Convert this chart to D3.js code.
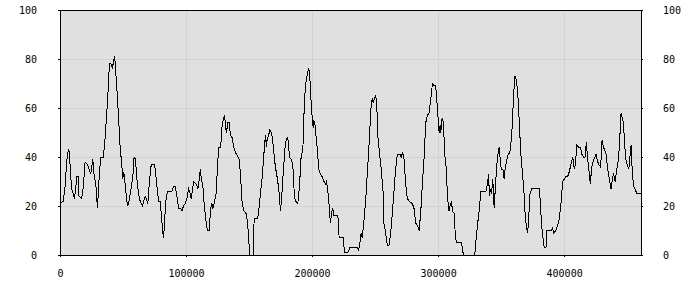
<!DOCTYPE html>
<html>
<head>
<meta charset="utf-8">
<script src="https://cdn.jsdelivr.net/npm/d3@7"></script>
<style>
    body { margin: 0; background: #ffffff; }
    .axis text { font-family: "DejaVu Sans Mono", monospace; font-size: 10px; fill: #000; }
    .axis .domain { display: none; }
</style>
</head>
<body>
<div id="wrapper"></div>
<script>
// sample positions (x) and readings (y)
const positions = [
    0, 2600, 4000, 5300, 6600, 7400, 8500, 9300, 10600, 11400, 12500, 13200, 14600, 15100, 17200, 18500,
    19900, 21700, 23000, 24400, 25200, 26000, 27000, 28400, 29700, 31000, 32300, 34400, 35800, 37100,
    38400, 39200, 40500, 41600, 42400, 43200, 43700, 45000, 46400, 47700, 49000, 49800, 50600, 51700,
    53000, 53800, 54800, 56400, 57800, 58800, 59900, 61000, 62300, 63600, 65400, 66500, 67600, 68600,
    69700, 70800, 72400, 75000, 76000, 77100, 78200, 79500, 80800, 81600, 82200, 83000, 84000, 85300,
    88800, 90100, 91400, 92800, 94100, 95900, 96700, 98000, 99400, 100700, 102000, 102800, 104100,
    105200, 106000, 108100, 109400, 110500, 111300, 112100, 113400, 114500, 115800, 116900, 118400,
    119500, 120600, 121400, 122700, 123800, 125100, 125900, 127500, 128500, 129800, 130600, 131400,
    132200, 133000, 134300, 135200, 136500, 137800, 139100, 141200, 142300, 143400, 144400, 145800,
    147600, 148700, 149700, 150500, 153600, 154000, 156900, 157700, 159000, 160300, 161600, 163000,
    163800, 164300, 165600, 166400, 167500, 168500, 169600, 170900, 172200, 173600, 174900, 175700,
    176800, 177600, 178900, 180200, 181000, 182100, 183400, 184700, 186000, 186800, 188700, 190000,
    191300, 192700, 193400, 194200, 195300, 196600, 197400, 198200, 198800, 200100, 200900, 201400,
    202200, 202700, 204000, 205400, 206700, 208000, 209400, 210700, 211500, 212500, 213300, 214100,
    214600, 215400, 216500, 217300, 220500, 221500, 224700, 225800, 228400, 230000, 231300, 235800,
    236900, 238000, 239000, 239800, 241200, 242500, 243800, 245100, 245900, 247000, 247800, 248600,
    249400, 250400, 251200, 252300, 253600, 254900, 256300, 257000, 258400, 259700, 261000, 262400,
    263700, 265000, 266300, 267600, 269800, 270800, 271900, 273000, 274300, 275600, 276900, 279600,
    280900, 282200, 283600, 284900, 286200, 287500, 288800, 290200, 291500, 292800, 294100, 295500,
    296800, 298100, 298900, 300000, 300800, 301600, 302100, 303200, 304200, 305300, 306600, 307400,
    308700, 309500, 310600, 311400, 312700, 313800, 314800, 318500, 320100, 329100, 329900, 331200,
    332600, 333900, 337900, 339200, 340000, 340800, 341300, 342400, 343400, 344500, 345600, 346600,
    347700, 348500, 349300, 350100, 351400, 352400, 353200, 354600, 355600, 357000, 358300, 359100,
    359900, 360900, 362300, 363600, 364600, 365700, 367000, 368400, 369100, 370200, 371000, 371800,
    372900, 374200, 380300, 381100, 382100, 383500, 384200, 385600, 386400, 389600, 390900, 391700,
    393500, 394800, 396200, 397500, 398800, 400200, 401500, 402800, 404100, 405400, 406800, 408100,
    408900, 410200, 411300, 412900, 414200, 415500, 416600, 417600, 418700, 420000, 420800, 421900,
    423500, 425300, 426100, 427400, 428800, 429300, 430100, 431200, 432000, 433300, 434600, 435900,
    437200, 438600, 439400, 440400, 441800, 443100, 444100, 445200, 446000, 447100, 447800, 448900,
    450000, 451300, 452400, 453200, 453900, 455000, 456300, 457700, 461000
];

const values = [
    21, 22, 28, 38, 43, 42, 32, 27, 25, 23, 27, 32, 32, 24, 23, 28,
    38, 37, 35, 33, 36, 39, 33, 29, 19, 31, 40, 40, 48, 58,
    69, 78, 78, 76, 79, 81, 79, 69, 57, 44, 37, 31, 34, 29,
    22, 20, 22, 27, 32, 40, 39, 31, 25, 22, 20, 22, 24, 23,
    21, 29, 37, 37, 33, 27, 22, 22, 14, 9, 7, 14, 22, 26,
    26, 28, 28, 24, 19, 19, 18, 20, 21, 23, 27, 26, 23,
    27, 30, 29, 27, 31, 35, 31, 28, 20, 14, 10, 10,
    19, 21, 19, 22, 25, 37, 44, 44, 52, 56, 57, 52,
    50, 54, 54, 49, 48, 44, 42, 40, 39, 31, 22, 18,
    17, 14, 7, 0, 0, 15, 15, 18, 25, 31, 40, 49,
    44, 47, 49, 51, 50, 48, 42, 36, 32, 27, 18, 22,
    31, 37, 46, 48, 47, 40, 39, 37, 24, 22, 21, 28,
    40, 43, 55, 65, 71, 75, 76, 73, 66, 56, 52, 55,
    54, 51, 44, 35, 33, 32, 30, 29, 30, 26, 22, 16,
    13, 17, 19, 16, 16, 7, 7, 1, 1, 3, 3, 3,
    2, 5, 9, 7, 14, 22, 33, 44, 52, 62, 64, 62,
    64, 65, 63, 48, 41, 35, 26, 13, 9, 4, 4, 9,
    17, 26, 35, 41, 41, 40, 42, 39, 29, 23, 22, 21,
    19, 13, 12, 10, 17, 29, 39, 54, 57, 58, 63, 70,
    69, 69, 64, 56, 50, 53, 50, 56, 54, 41, 35, 24,
    18, 20, 22, 18, 17, 7, 5, 5, 0, 0, 5, 12,
    18, 26, 26, 29, 33, 24, 27, 25, 31, 19, 29, 37,
    42, 44, 39, 35, 35, 31, 35, 39, 41, 42, 48, 56,
    65, 73, 71, 63, 52, 41, 33, 24, 16, 11, 9, 14,
    25, 27, 27, 22, 12, 6, 3, 3, 10, 10, 11, 9,
    10, 12, 15, 21, 30, 31, 32, 32, 34, 37, 40, 35,
    37, 45, 44, 44, 41, 40, 40, 46, 39, 33, 29, 36,
    39, 41, 39, 37, 36, 39, 47, 44, 43, 41, 35, 31,
    27, 32, 33, 30, 35, 39, 47, 58, 56, 54, 47, 39,
    37, 35, 41, 45, 36, 28, 27, 25, 25
];

const xTicks = [0, 100000, 200000, 300000, 400000];
const yTicks = [0, 20, 40, 60, 80, 100];

function buildPlot() {
    const data = positions.map((p, i) => ({ x: p, y: values[i] }));

    var dimension = {
        width: 700,
        height: 300,
        margin: {
            top: 10,
            left: 60,
            bottom: 45,
            right: 59
        }
    };
    dimension.boundedWidth = dimension.width - dimension.margin.left - dimension.margin.right;
    dimension.boundedHeight = dimension.height - dimension.margin.top - dimension.margin.bottom;

    const svg = d3.select("#wrapper").append("svg")
        .attr("width", dimension.width)
        .attr("height", dimension.height);

    const bounded = svg.append("g")
        .attr("transform", `translate(${dimension.margin.left},${dimension.margin.top})`);

    const xScaler = d3.scaleLinear()
        .domain([0, d3.max(positions)])
        .range([0, dimension.boundedWidth]);

    const yScaler = d3.scaleLinear()
        .domain([0, 100])
        .range([dimension.boundedHeight, 0]);

    // plot background
    bounded.append("rect")
        .attr("width", dimension.boundedWidth)
        .attr("height", dimension.boundedHeight)
        .attr("fill", "#e0e0e0");

    // grid
    const grid = bounded.append("g").attr("shape-rendering", "crispEdges");
    grid.selectAll("line.h")
        .data(yTicks.slice(1, -1))
        .join("line")
        .attr("class", "h")
        .attr("x1", 0)
        .attr("x2", dimension.boundedWidth)
        .attr("y1", d => Math.round(yScaler(d)) + 0.5)
        .attr("y2", d => Math.round(yScaler(d)) + 0.5)
        .attr("stroke", "#d2d2d2");
    grid.selectAll("line.v")
        .data(xTicks.slice(1))
        .join("line")
        .attr("class", "v")
        .attr("y1", 0)
        .attr("y2", dimension.boundedHeight)
        .attr("x1", d => Math.round(xScaler(d)) + 0.5)
        .attr("x2", d => Math.round(xScaler(d)) + 0.5)
        .attr("stroke", "#d2d2d2");

    // the line
    const line = d3.line()
        .x(d => xScaler(d.x))
        .y(d => yScaler(d.y));

    bounded.append("path")
        .datum(data)
        .attr("d", line)
        .attr("fill", "none")
        .attr("stroke", "#000")
        .attr("stroke-width", 1)
        .attr("shape-rendering", "crispEdges");

    // frame
    bounded.append("rect")
        .attr("x", 0.5)
        .attr("y", 0.5)
        .attr("width", dimension.boundedWidth)
        .attr("height", dimension.boundedHeight)
        .attr("fill", "none")
        .attr("stroke", "#000")
        .attr("shape-rendering", "crispEdges");

    // axes
    bounded.append("g")
        .classed("axis", true)
        .attr("transform", `translate(0,${dimension.boundedHeight})`)
        .call(d3.axisBottom(xScaler).tickValues(xTicks).tickSize(2).tickPadding(13).tickFormat(d => d));

    bounded.append("g")
        .classed("axis", true)
        .call(d3.axisLeft(yScaler).tickValues(yTicks).tickSize(2).tickPadding(21).tickFormat(d => d));

    bounded.append("g")
        .classed("axis", true)
        .attr("transform", `translate(${dimension.boundedWidth},0)`)
        .call(d3.axisRight(yScaler).tickValues(yTicks).tickSize(2).tickPadding(20).tickFormat(d => d));
}

buildPlot();
</script>
</body>
</html>
